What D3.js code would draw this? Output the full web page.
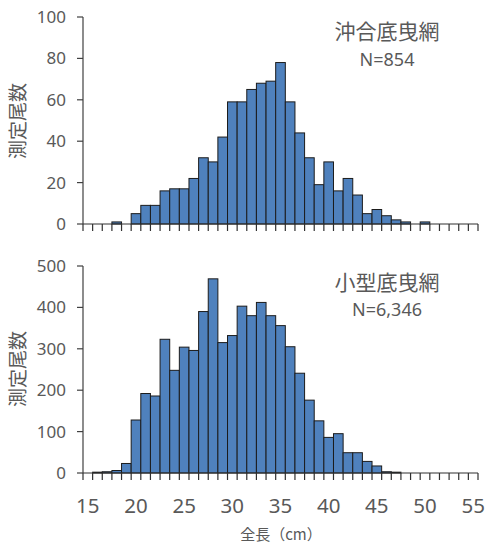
<!DOCTYPE html>
<html><head><meta charset="utf-8">
<script src="https://cdn.jsdelivr.net/npm/d3@7"></script>
<style>body{margin:0;background:#fff}svg{display:block}</style>
</head><body>
<script>
const lengths = d3.range(15, 56); // 全長 cm categories 15..55
const offshoreCounts = [0,0,0,1,0,5,9,9,16,17,17,22,32,30,42,59,59,65,68,69,78,59,44,32,19,30,16,22,14,5,7,4,2,1,0,1,0,0,0,0,0];
const smallCounts = [0,2,3,6,23,128,192,186,323,248,304,296,390,469,315,332,403,380,412,380,356,305,241,176,126,86,95,49,49,28,17,3,2,0,0,0,0,0,0,0,0];
const xTickLabels = [15,20,25,30,35,40,45,50,55];
const topYTicks = [0,20,40,60,80,100];
const botYTicks = [0,100,200,300,400,500];
const panels = [
  {name:"沖合底曳網", n:"N=854", data:offshoreCounts, max:100, ticks:topYTicks},
  {name:"小型底曳網", n:"N=6,346", data:smallCounts, max:500, ticks:botYTicks}
];
const W=486,H=543;
const svg=d3.select("body").append("svg").attr("width",W).attr("height",H);
const x=d3.scaleBand().domain(lengths).range([83,478]).paddingInner(0).paddingOuter(0);
const geo=[{top:17,bottom:224,titleY:39,nY:66,ytitle:121},{top:266,bottom:473,titleY:290,nY:316,ytitle:369}];
const txt="#595959", num="'Noto Sans', 'DejaVu Sans', sans-serif", jp="'Noto Sans CJK JP', sans-serif";
panels.forEach((p,k)=>{
  const g=geo[k];
  const y=d3.scaleLinear().domain([0,p.max]).range([g.bottom,g.top]);
  const bars=p.data.map((v,i)=>({c:lengths[i],v})).filter(d=>d.v>0);
  svg.append("g").selectAll("rect").data(bars)
    .join("rect").attr("x",d=>x(d.c)).attr("width",x.bandwidth())
    .attr("y",d=>y(d.v)).attr("height",d=>g.bottom-y(d.v))
    .attr("fill","#4f81bd").attr("stroke","#1c1c1c").attr("stroke-width",1);
  // y axis
  svg.append("line").attr("x1",83).attr("x2",83).attr("y1",y(p.max)).attr("y2",g.bottom).attr("stroke","#404040").attr("stroke-width",1.2);
  p.ticks.forEach(t=>{
    svg.append("line").attr("x1",77).attr("x2",83).attr("y1",y(t)).attr("y2",y(t)).attr("stroke","#404040").attr("stroke-width",1.2);
    svg.append("text").attr("x",66).attr("y",y(t)+6).attr("text-anchor","end").attr("fill",txt)
      .style("font-family",num).style("font-size","17px").text(t);
  });
  // x axis
  svg.append("line").attr("x1",83).attr("x2",478).attr("y1",g.bottom).attr("y2",g.bottom).attr("stroke","#303030").attr("stroke-width",1.2);
  lengths.concat([null]).forEach((c,i)=>{
    const xx = c===null ? x.range()[1] : x(c);
    svg.append("line").attr("x1",xx).attr("x2",xx).attr("y1",g.bottom).attr("y2",g.bottom+7).attr("stroke","#303030").attr("stroke-width",1.2);
  });
  svg.append("text").attr("transform",`translate(25,${g.ytitle}) rotate(-90)`).attr("text-anchor","middle").attr("fill",txt)
    .style("font-family",jp).style("font-size","19px").text("測定尾数");
  svg.append("text").attr("x",387).attr("y",g.titleY).attr("text-anchor","middle").attr("fill",txt)
    .style("font-family",jp).style("font-size","21px").text(p.name);
  svg.append("text").attr("x",387).attr("y",g.nY).attr("text-anchor","middle").attr("fill",txt)
    .style("font-family",num).style("font-size","18px").text(p.n);
  if(k===1){
    xTickLabels.forEach(t=>{
      svg.append("text").attr("x",x(t)+x.bandwidth()/2).attr("y",513).attr("text-anchor","middle").attr("fill",txt)
        .style("font-family",num).style("font-size","20.5px").text(t);
    });
    svg.append("text").attr("x",281).attr("y",540).attr("text-anchor","middle").attr("fill",txt)
      .style("font-family",jp).style("font-size","15px").text("全長（cm）");
  }
});
</script>
</body></html>
